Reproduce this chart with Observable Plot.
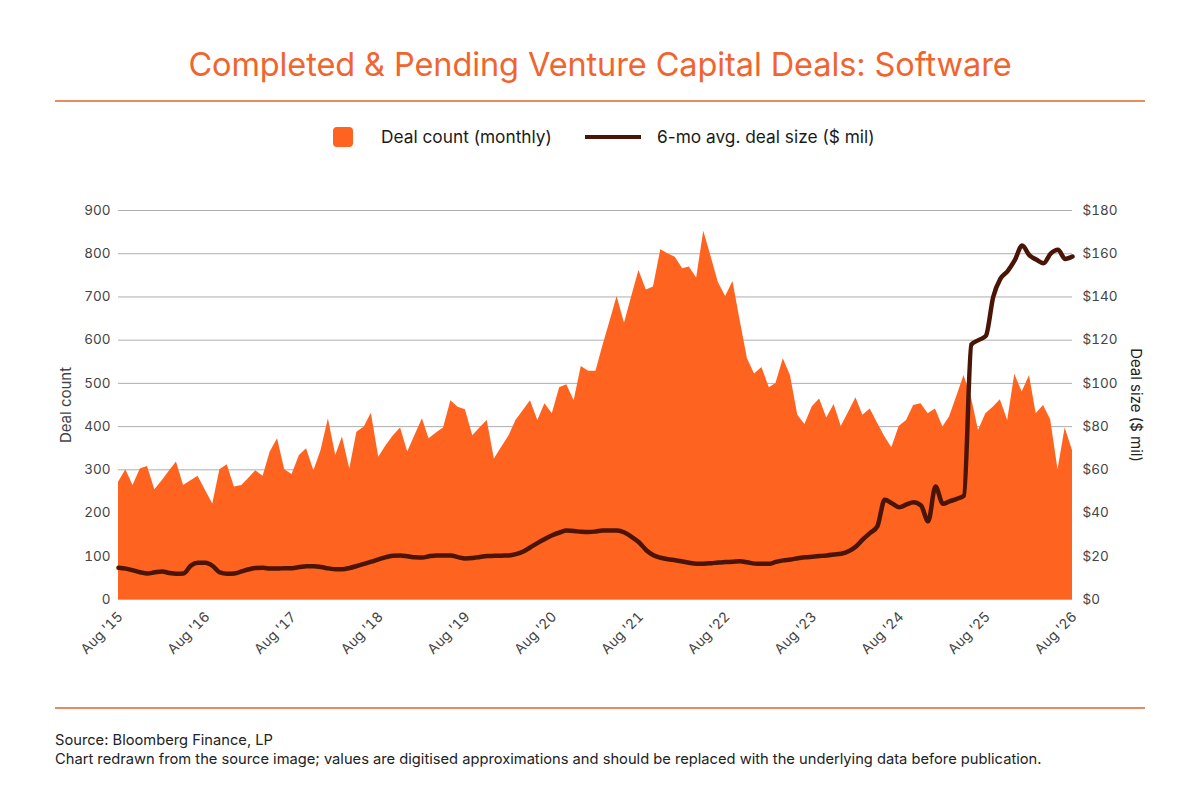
<!DOCTYPE html>
<html>
<head>
<meta charset="utf-8">
<script src="https://cdn.jsdelivr.net/npm/d3@7"></script>
<script src="https://cdn.jsdelivr.net/npm/@observablehq/plot@0.6"></script>
<style>
  body { margin:0; background:#fff; font-family: Inter, "Noto Sans", sans-serif; }
  #wrap { position:relative; width:1200px; height:800px; overflow:hidden; }
  .title { position:absolute; left:0; width:1200px; top:45px; text-align:center; font-size:32.5px; color:#f0652f; font-weight:400; letter-spacing:-0.1px; }
  .rule { position:absolute; left:55px; width:1090px; height:2px; background:#ea8a62; }
  .leg { position:absolute; font-size:17.3px; color:#1a1a1a; }
  .swatch { position:absolute; left:333px; top:127px; width:20px; height:20px; border-radius:4px; background:#ff6320; }
  .lsample { position:absolute; left:585px; top:135px; width:56px; height:4px; background:#4a1506; }
  .foot { position:absolute; left:55px; font-size:14.7px; color:#222; }
  #chart { position:absolute; left:0; top:170px; }
  #chart svg g[aria-label="y-axis label"] text { font-size:15px; }
</style>
</head>
<body>
<div id="wrap">
  <div class="title">Completed &amp; Pending Venture Capital Deals: Software</div>
  <div class="rule" style="top:100px"></div>
  <div class="swatch"></div>
  <div class="leg" style="left:381px; top:126px">Deal count (monthly)</div>
  <div class="lsample"></div>
  <div class="leg" style="left:657px; top:126px">6-mo avg. deal size ($ mil)</div>
  <div id="chart"></div>
  <div class="rule" style="top:707px"></div>
  <div class="foot" style="top:731px">Source: Bloomberg Finance, LP</div>
  <div class="foot" style="top:750px">Chart redrawn from the source image; values are digitised approximations and should be replaced with the underlying data before publication.</div>
</div>
<script>
// Monthly observations, Aug 2015 through Aug 2026
const startMonth = "2015-08-01";
const endMonth = "2026-08-01";

const dealCount = [
  271,300,264,302,308,254,275,296,318,264,275,285,253,221,300,312,260,264,281,298,
  285,341,372,300,289,333,349,298,345,418,333,376,302,387,399,431,329,356,378,397,
  341,380,418,372,385,397,460,445,439,379,397,414,325,352,379,414,437,460,414,453,
  430,490,497,460,539,528,528,585,643,701,639,700,761,716,723,809,800,792,765,769,
  744,852,793,734,701,736,646,557,522,537,490,500,557,518,426,405,446,464,420,451,
  400,433,467,426,441,409,377,351,400,414,449,453,430,441,399,422,470,518,468,391,
  430,445,462,414,521,480,518,430,449,416,300,397,345
];

const dealSize = [
  14.7,14.3,13.5,12.6,12.0,12.6,13.0,12.3,11.9,12.0,15.7,17.0,17.0,15.5,12.5,11.9,12.0,13.0,14.0,14.6,
  14.7,14.3,14.3,14.5,14.5,15.0,15.4,15.4,15.0,14.4,14.0,14.0,14.6,15.5,16.5,17.5,18.6,19.6,20.3,20.4,
  20.0,19.5,19.4,20.0,20.4,20.4,20.4,19.6,19.0,19.2,19.7,20.1,20.2,20.3,20.4,21.0,22.2,24.2,26.2,28.0,
  29.7,31.0,31.9,31.7,31.3,31.2,31.5,31.9,31.9,31.9,31.0,29.0,26.5,22.8,20.5,19.3,18.6,18.2,17.6,17.0,
  16.6,16.6,16.8,17.1,17.3,17.5,17.7,17.2,16.6,16.5,16.5,17.4,18.1,18.5,19.1,19.5,19.8,20.1,20.4,20.8,
  21.2,22.3,24.5,27.8,30.8,33.8,46.1,44.5,42.7,44.0,45.0,43.5,36.2,52.3,44.3,45.4,46.6,48.1,118,120,
  122,140,148.4,152,157,163.8,159.2,157.3,155.6,160,161.8,157.6,158.7
];

const countTicks = [0,100,200,300,400,500,600,700,800,900];
const sizeTicks = [0,20,40,60,80,100,120,140,160,180];
const tickYears = ["2015","2016","2017","2018","2019","2020","2021","2022","2023","2024","2025","2026"];
const leftLabel = "Deal count";
const rightLabel = "Deal size ($ mil)";

const ratio = countTicks[countTicks.length-1] / sizeTicks[sizeTicks.length-1];
const months = d3.utcMonth.range(new Date(startMonth), d3.utcMonth.offset(new Date(endMonth), 1));
const data = months.map((date, i) => ({date, count: dealCount[i], size: dealSize[i]}));
const xTicks = tickYears.map(y => new Date(`${y}-08-01`));

const chart = Plot.plot({
  width: 1200,
  height: 500,
  marginLeft: 118,
  marginRight: 128,
  marginTop: 40,
  marginBottom: 71,
  style: { fontFamily: "Inter, 'Noto Sans', sans-serif", fontSize: "13.5px", color: "#444" },
  x: { type: "utc", domain: [new Date(startMonth), new Date(endMonth)] },
  y: { domain: [0, 900] },
  marks: [
    Plot.gridY(countTicks, { stroke: "#9a9a9a", strokeOpacity: 0.8, strokeWidth: 1 }),
    Plot.areaY(data, { x: "date", y: "count", fill: "#ff6320", curve: "linear" }),
    Plot.lineY(data, { x: "date", y: d => d.size * ratio, stroke: "#4a1506", strokeWidth: 4.5, curve: "monotone-x" }),
    Plot.axisY(countTicks, { anchor: "left", tickSize: 0, tickPadding: 8, label: leftLabel, labelAnchor: "center", labelArrow: "none", labelOffset: 58, fill: "#444" }),
    Plot.axisY(countTicks, { anchor: "right", tickSize: 0, tickPadding: 10, tickFormat: d => `$${d / ratio}`, label: null, fill: "#444" }),
    Plot.text([rightLabel], { frameAnchor: "right", rotate: 90, dx: 63, textAnchor: "middle", lineAnchor: "middle", fontSize: 15, fill: "#222" }),
    Plot.axisX(xTicks, { tickSize: 0, tickPadding: 15, dx: 2, tickRotate: -45, fontSize: 14, tickFormat: d => `Aug '${String(d.getUTCFullYear()).slice(2)}`, label: null, fill: "#444" })
  ]
});
document.getElementById("chart").appendChild(chart);
</script>
</body>
</html>
